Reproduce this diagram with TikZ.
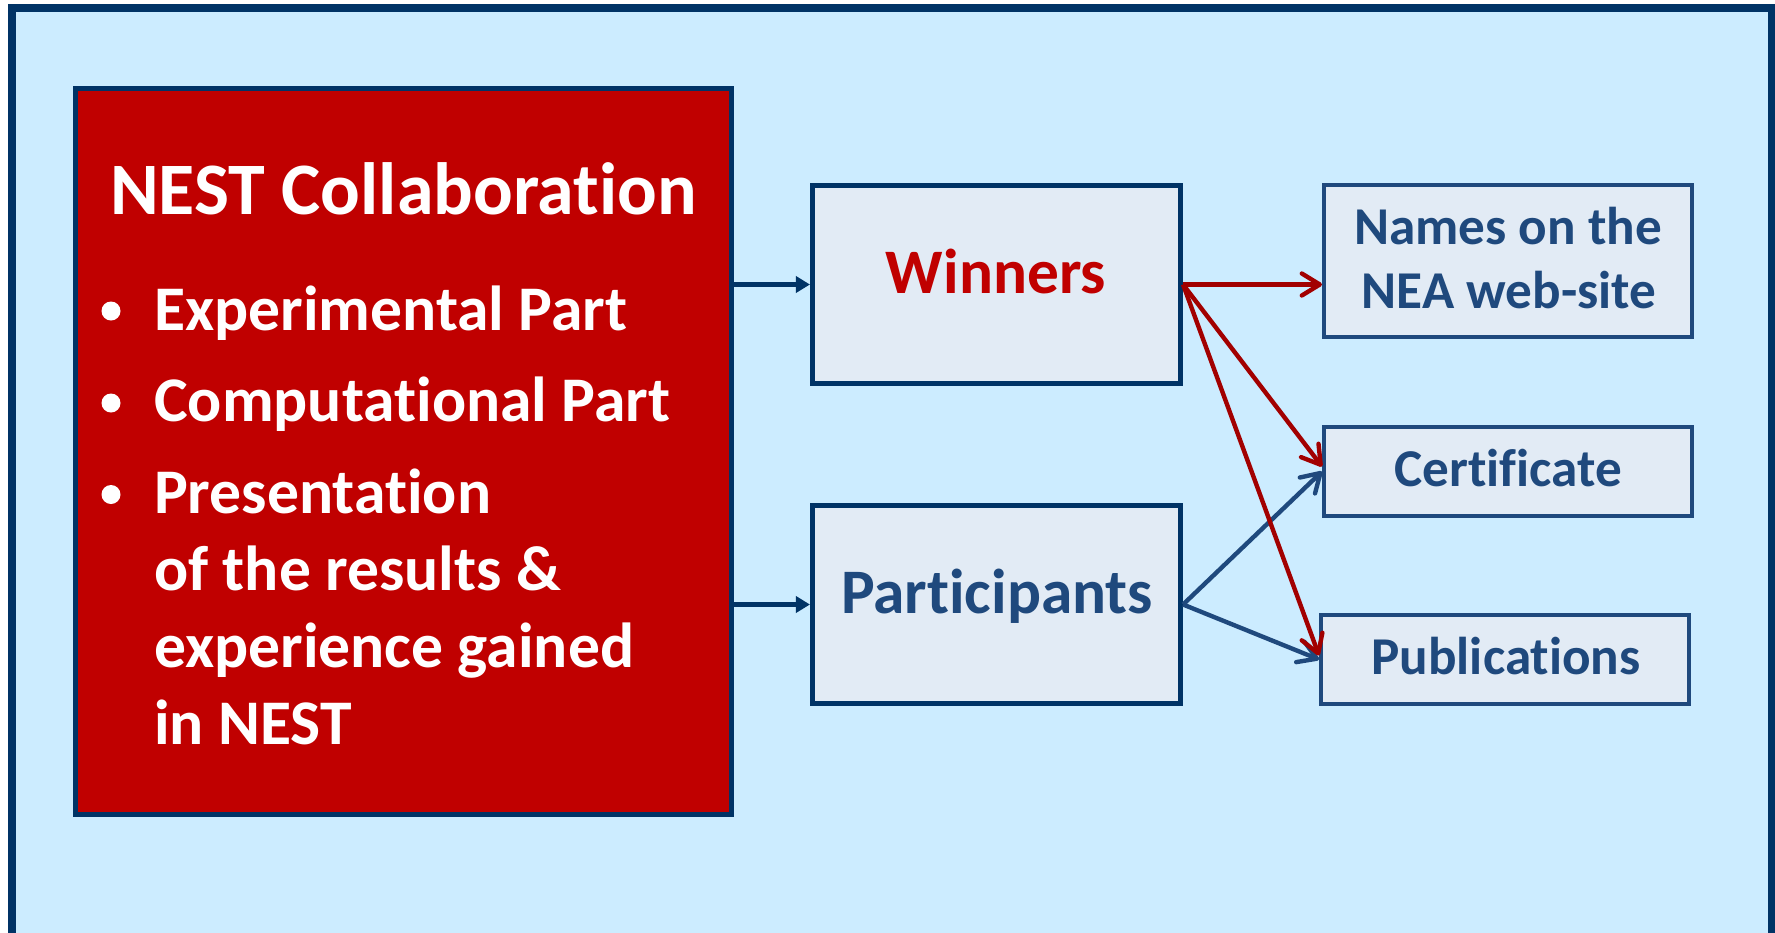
\documentclass[tikz,border=0pt]{standalone}
\usepackage{fontspec}
\setmainfont{Carlito}[Ligatures=NoCommon]
\usetikzlibrary{arrows.meta,calc}

\definecolor{bgblue}{RGB}{204,236,255}
\definecolor{navy}{RGB}{0,51,102}
\definecolor{nestred}{RGB}{192,0,0}
\definecolor{linkred}{RGB}{162,0,0}
\definecolor{boxfill}{RGB}{226,235,245}
\definecolor{textblue}{RGB}{31,73,125}

\begin{document}
\begin{tikzpicture}[x=0.5pt,y=-0.5pt,
  mainbox/.style={draw=navy, line width=2.35pt, fill=boxfill, inner sep=0pt,
    minimum width=184.2pt, minimum height=99.2pt},
  outbox/.style={draw=textblue, line width=2pt, fill=boxfill, inner sep=0pt,
    minimum width=184pt},
  feed/.style={draw=navy, line width=2.2pt, -{Triangle[length=7pt,width=8pt]}},
  winlink/.style={draw=linkred, line width=2.2pt, -{Straight Barb[length=9pt,width=11pt,round]}},
  partlink/.style={draw=textblue, line width=2.2pt, -{Straight Barb[length=9pt,width=11pt,round]}},
  itemtext/.style={anchor=base west, text=white, inner sep=0pt,
    font=\bfseries\fontsize{31.8pt}{38pt}\selectfont},
  bulletdot/.style={circle, fill=white, inner sep=0pt, minimum size=9.5pt},
  boxlabel/.style={anchor=base, inner sep=0pt}
]
\useasboundingbox (0,0) rectangle (1775,932);
\fill[white] (0,0) rectangle (1775,932);
\clip (0,0) rectangle (1775,932);

% outer frame, open at the bottom edge
\draw[navy, line width=4pt, fill=bgblue] (12,8) rectangle (1772,980);

% collaboration panel
\node[draw=navy, line width=2.5pt, fill=nestred, inner sep=0pt,
      minimum width=328pt, minimum height=363pt] (nest) at (403.5,451.5) {};
\node[boxlabel, text=white, font=\bfseries\fontsize{37pt}{44pt}\selectfont]
      (title) at (403.5,214) {NEST Collaboration};

\node[bulletdot] (b1) at (111,311) {};
\node[bulletdot] (b2) at (111,403) {};
\node[bulletdot] (b3) at (111,494.5) {};
\node[itemtext] (t1)  at (153.75,330)   {Experimental Part};
\node[itemtext] (t2)  at (153.75,421.7) {Computational Part};
\node[itemtext] (t3a) at (153.75,513.3) {Presentation};
\node[itemtext] (t3b) at (153.75,590.7) {of the results \&};
\node[itemtext] (t3c) at (153.75,667.3) {experience gained};
\node[itemtext] (t3d) at (153.75,744)   {in NEST};

% groups
\node[mainbox] (winners) at (996.5,284.5) {};
\node[mainbox] (participants) at (996.5,604.5) {};
\node[boxlabel, text=nestred, font=\bfseries\fontsize{31.7pt}{38pt}\selectfont]
      (wlabel) at (996,293) {Winners};
\node[boxlabel, text=textblue, font=\bfseries\fontsize{31.7pt}{38pt}\selectfont]
      (plabel) at (997,613) {Participants};

% outcomes
\node[outbox, minimum height=76pt] (names) at (1508,261) {};
\node[outbox, minimum height=44.2pt] (cert) at (1508,471.5) {};
\node[outbox, minimum height=44.5pt] (pubs) at (1505,659.5) {};
\begin{scope}[every node/.style={boxlabel, text=textblue, font=\bfseries\fontsize{26.6pt}{32pt}\selectfont}]
  \node (nlabel1) at (1508,244) {Names on the};
  \node (nlabel2) at (1509,308) {NEA web-site};
  \node (clabel) at (1508,486) {Certificate};
  \node (plabel2) at (1506,674) {Publications};
\end{scope}

% connectors
\draw[feed] (nest.east |- winners.west) -- (winners.west);
\draw[feed] (nest.east |- participants.west) -- (participants.west);

\draw[partlink] (participants.east) -- (cert.west);
\draw[partlink] (participants.east) -- (pubs.west);

\draw[winlink] (winners.east) -- (names.west |- winners.east);
\draw[winlink] (winners.east) -- ($(cert.west)+(0,-5)$);
\draw[winlink] (winners.east) -- ($(pubs.west)+(0,-4)$);
\end{tikzpicture}
\end{document}
